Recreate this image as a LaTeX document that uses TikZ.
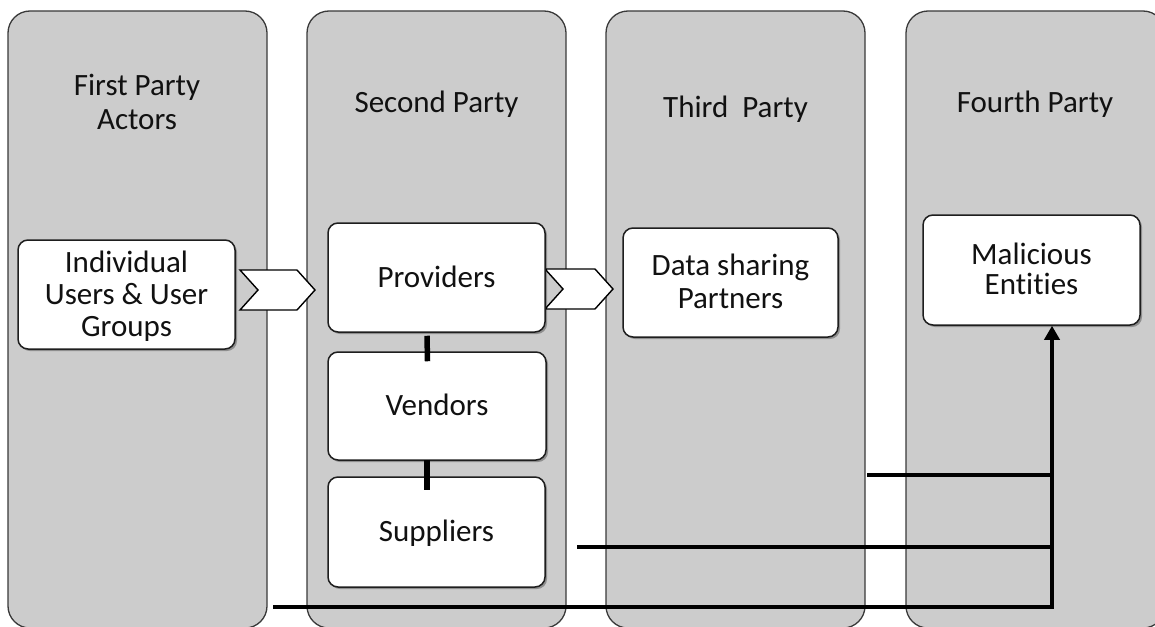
\documentclass[tikz,border=0pt]{standalone}
\usepackage{fontspec}
\setmainfont{Carlito}[Ligatures=NoCommon]
\usetikzlibrary{arrows.meta,shapes.symbols,shadows,calc}
\definecolor{colfill}{HTML}{CCCCCC}
\definecolor{colline}{HTML}{3A3A3A}
\definecolor{boxline}{HTML}{1E1E1E}
\definecolor{txt}{HTML}{111111}
\newcommand\capl[1]{\smash{#1}\rule{0pt}{\fontcharht\font`H}}
\begin{document}
\begin{tikzpicture}[x=1pt,y=-1pt,
  column/.style={draw=colline, fill=colfill, line width=1.3pt, rounded corners=22pt,
    minimum width=259pt, minimum height=617pt, inner sep=0pt},
  title/.style={font=\fontsize{31}{32}\selectfont, align=center, inner sep=0pt, text=txt},
  ibox/.style={draw=boxline, fill=white, line width=1.5pt, rounded corners=10pt,
    minimum width=217pt, minimum height=109pt, inner sep=0pt, align=center,
    font=\fontsize{31}{32}\selectfont, text=txt,
    drop shadow={shadow xshift=2pt, shadow yshift=-2pt, opacity=0.3, fill=black}},
  chev/.style={signal, signal from=west, signal to=east, signal pointer angle=96,
    draw=black, fill=white, line width=1.4pt, minimum height=40pt, inner sep=0pt},
  stick/.style={line width=5.5pt, draw=black},
  flow/.style={line width=3.5pt, draw=black},
]
\path[fill=white, use as bounding box] (0,0) rectangle (1155,626);

% columns
\node[column] (c1) at (137.5,319.5) {};
\node[column] (c2) at (436.5,319.5) {};
\node[column] (c3) at (735.5,319.5) {};
\node[column] (c4) at (1035.5,319.5) {};

% column titles
\node[title, font=\fontsize{31}{34}\selectfont] (t1) at (137,103) {\capl{First Party}\\\capl{Actors}};
\node[title] (t2) at (436.5,103) {\capl{Second Party}};
\node[title] (t3) at (735.5,108) {\capl{Third\ \ Party}};
\node[title] (t4) at (1035,102.5) {\capl{Fourth Party}};

% chevrons
\node[chev, minimum width=75pt] (ch1) at (277.5,290) {};
\node[chev, minimum width=68pt] (ch2) at (579,289) {};

% inner boxes
\node[ibox] (ind) at (126.5,294.5) {\capl{Individual}\\\capl{Users \& User}\\\capl{Groups}};
\node[ibox] (prov) at (436.5,277.5) {\capl{Providers}};
\node[ibox, minimum height=108pt, minimum width=218pt] (vend) at (437,406) {\capl{Vendors}};
\node[ibox, minimum height=110pt] (supp) at (436.5,532) {\capl{Suppliers}};
\node[ibox, minimum width=215pt, font=\fontsize{31}{33}\selectfont] (data) at (730.5,282.5) {\capl{Data sharing}\\\capl{Partners}};
\node[ibox, minimum height=110pt, font=\fontsize{31}{30}\selectfont] (mal) at (1031.5,270) {\capl{Malicious}\\\capl{Entities}};

% links between second-party boxes
\draw[stick] ([xshift=-9.5pt,yshift=-3pt]prov.south) -- ([xshift=-9.5pt,yshift=-10pt]vend.north);
\draw[stick] ([xshift=-10pt,yshift=1pt]vend.south) -- ([xshift=-9.5pt,yshift=-14pt]supp.north);

% flows to malicious entities
\coordinate (s1) at (273,607);
\coordinate (s2) at (577,547);
\coordinate (s3) at (867,475);
\coordinate (mtip) at ([xshift=20.5pt]mal.south);
\draw[flow] (s3) -- (s3 -| mtip);
\draw[flow] (s2) -- (s2 -| mtip);
\draw[flow, -{Triangle[length=14pt,width=15pt]}] (s1) -| (mtip);
\end{tikzpicture}
\end{document}
